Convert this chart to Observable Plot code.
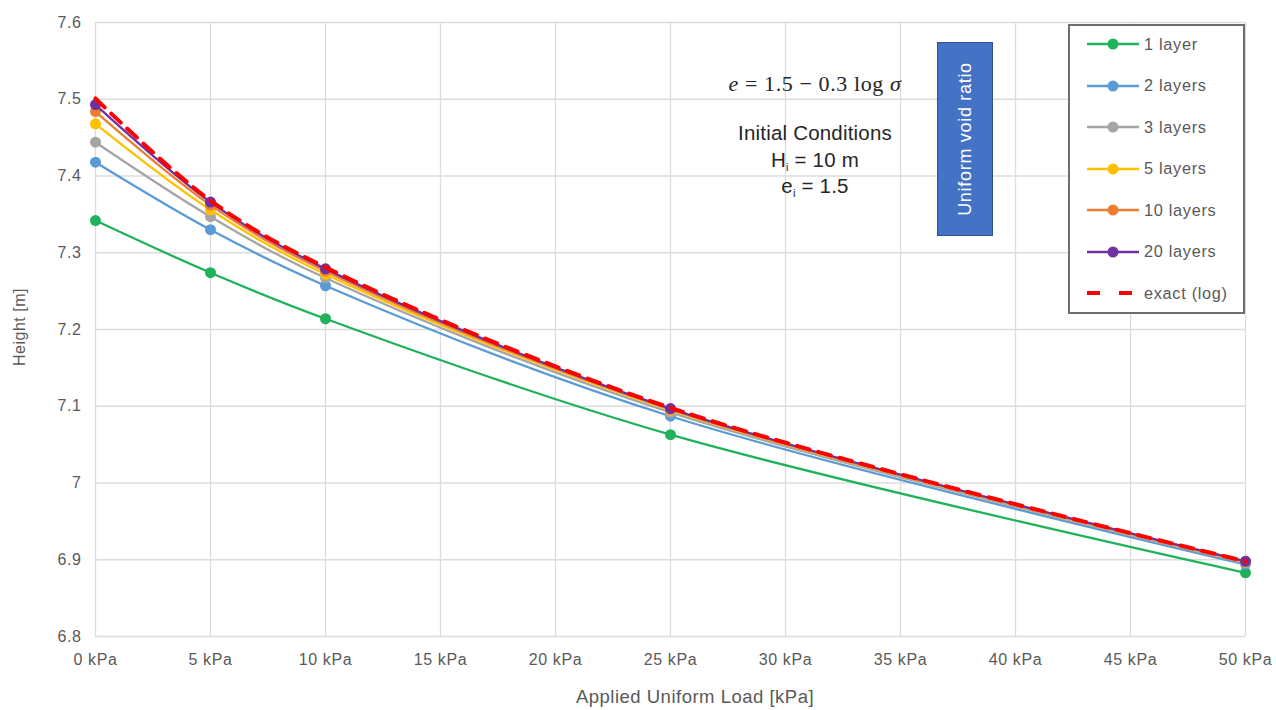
<!DOCTYPE html>
<html>
<head>
<meta charset="utf-8">
<script src="https://cdn.jsdelivr.net/npm/d3@7"></script>
<script src="https://cdn.jsdelivr.net/npm/@observablehq/plot@0.6"></script>
<style>
  body { margin: 0; background: #fff; font-family: "Liberation Sans", Arial, sans-serif; }
  #wrap { position: relative; width: 1276px; height: 710px; overflow: hidden; }
  #legend {
    position: absolute; left: 1068px; top: 24px; width: 173px; height: 286px;
    border: 2px solid #6e6e6e; background: #fff; box-sizing: content-box;
  }
  .row { position: absolute; left: 15px; height: 20px; display: flex; align-items: center; }
  .row span { font-size: 16.3px; letter-spacing: 0.7px; color: #595959; margin-left: 3px; }
  #note { position: absolute; left: 700px; top: 70px; width: 230px; text-align: center; color: #262626; }
  #formula { font-family: "Liberation Serif", "DejaVu Serif", serif; font-size: 22px; letter-spacing: 0.6px; line-height: 28px; }
  .cond { font-size: 20.5px; letter-spacing: 0.2px; line-height: 26.5px; height: 26.5px; }
  .cond sub { font-size: 11px; line-height: 0; vertical-align: -4px; }
  #tag {
    position: absolute; left: 937px; top: 42px; width: 54px; height: 192px;
    background: #4472c4; border: 1.5px solid #2f528f;
  }
  #tag div {
    position: absolute; left: 50%; top: 50%; white-space: nowrap; color: #fff;
    font-size: 18px; letter-spacing: 0.7px;
    transform: translate(-50%, -50%) rotate(-90deg);
  }
  .title { position: absolute; color: #595959; font-size: 18.5px; letter-spacing: 0.5px; white-space: nowrap; }
  #xtitle { left: 695px; top: 697px; transform: translate(-50%, -50%); }
  #ytitle { left: 20px; top: 327px; transform: translate(-50%, -50%) rotate(-90deg); font-size: 16px; }
</style>
</head>
<body>
<div id="wrap">
  <div id="chart"></div>
  <div class="title" id="xtitle">Applied Uniform Load [kPa]</div>
  <div class="title" id="ytitle">Height [m]</div>
  <div id="note">
    <div id="formula"><i>e</i> = 1.5 − 0.3 log <i>σ</i></div>
    <div style="height:22px"></div>
    <div class="cond">Initial Conditions</div>
    <div class="cond">H<sub>i</sub> = 10 m</div>
    <div class="cond">e<sub>i</sub> = 1.5</div>
  </div>
  <div id="tag"><div>Uniform void ratio</div></div>
  <div id="legend"></div>
</div>
<script>
// Applied uniform load (kPa) at which heights were computed
const loads = [0, 5, 10, 25, 50];

// Final layer-stack height [m] for each discretisation
const oneLayer    = [7.342, 7.274, 7.214, 7.063, 6.883];
const twoLayers   = [7.418, 7.330, 7.257, 7.087, 6.894];
const threeLayers = [7.444, 7.347, 7.267, 7.092, 6.896];
const fiveLayers  = [7.468, 7.356, 7.272, 7.095, 6.897];
const tenLayers   = [7.484, 7.362, 7.276, 7.096, 6.898];
const twentyLayers= [7.493, 7.366, 7.279, 7.097, 6.898];
const exactLog    = [7.501, 7.368, 7.281, 7.098, 6.898];

const seriesNames = ["1 layer", "2 layers", "3 layers", "5 layers", "10 layers", "20 layers", "exact (log)"];
const seriesColors = ["#1fb25a", "#5b9bd5", "#a5a5a5", "#ffc000", "#ed7d31", "#7030a0", "#ff0000"];
const seriesValues = [oneLayer, twoLayers, threeLayers, fiveLayers, tenLayers, twentyLayers, exactLog];

const xTicks = [0, 5, 10, 15, 20, 25, 30, 35, 40, 45, 50];
const yTicks = [6.8, 6.9, 7.0, 7.1, 7.2, 7.3, 7.4, 7.5, 7.6];

const rows = seriesNames.flatMap((name, i) =>
  loads.map((x, j) => ({series: name, load: x, height: seriesValues[i][j]}))
);
const layered = rows.filter(d => d.series !== "exact (log)");
const exact = rows.filter(d => d.series === "exact (log)");

const chart = Plot.plot({
  width: 1276,
  height: 710,
  marginLeft: 95,
  marginRight: 31,
  marginTop: 22,
  marginBottom: 74,
  style: {fontFamily: "Liberation Sans, Arial, sans-serif", fontSize: "16px", letterSpacing: "0.6px",
          color: "#595959", background: "#fff"},
  x: {domain: [0, 50], label: null},
  y: {domain: [6.8, 7.6], label: null},
  color: {domain: seriesNames, range: seriesColors},
  marks: [
    Plot.gridX(xTicks, {stroke: "#dcdcdc", strokeOpacity: 1, strokeWidth: 1.3}),
    Plot.gridY(yTicks, {stroke: "#dcdcdc", strokeOpacity: 1, strokeWidth: 1.3}),
    Plot.axisX(xTicks, {tickFormat: d => `${d} kPa`, tickSize: 0, tickPadding: 17, label: null}),
    Plot.axisY(yTicks, {tickFormat: d => `${+d.toFixed(1)}`, tickSize: 0, tickPadding: 14, label: null}),
    ...seriesNames.slice(0, 6).flatMap(name => [
      Plot.line(layered.filter(d => d.series === name),
        {x: "load", y: "height", stroke: "series", strokeWidth: 2.3, curve: "catmull-rom"}),
      Plot.dot(layered.filter(d => d.series === name),
        {x: "load", y: "height", fill: "series", r: 5.5})
    ]),
    Plot.line(exact, {x: "load", y: "height", stroke: "series", strokeWidth: 4,
      strokeDasharray: "13,9", curve: "catmull-rom"})
  ]
});
document.getElementById("chart").appendChild(chart);

// Legend entries with line-and-marker swatches
const legend = document.getElementById("legend");
seriesNames.forEach((name, i) => {
  const row = document.createElement("div");
  row.className = "row";
  row.style.top = (8 + i * 41.5) + "px";
  const isExact = name === "exact (log)";
  const swatch = isExact
    ? `<svg width="56" height="12"><line x1="2" x2="54" y1="6" y2="6" stroke="${seriesColors[i]}" stroke-width="4" stroke-dasharray="13,19"/></svg>`
    : `<svg width="56" height="12"><line x1="2" x2="54" y1="6" y2="6" stroke="${seriesColors[i]}" stroke-width="2.3"/><circle cx="28" cy="6" r="5.5" fill="${seriesColors[i]}"/></svg>`;
  row.innerHTML = swatch + `<span>${name}</span>`;
  legend.appendChild(row);
});
</script>
</body>
</html>
